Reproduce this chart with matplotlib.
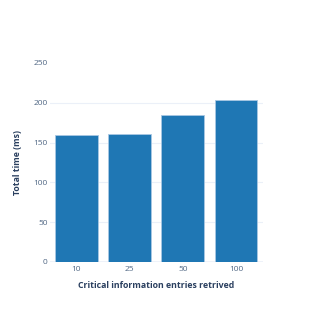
import matplotlib
matplotlib.use("Agg")
import matplotlib.pyplot as plt
import numpy as np

plt.rcParams['font.family'] = ['Open Sans', 'DejaVu Sans']

# data
entries = ['10', '25', '50', '100']
total_time = [158.9, 160.1, 184.9, 203.8]
yticks = [0, 50, 100, 150, 200, 250]

fig = plt.figure(figsize=(3.16, 3.16), dpi=100)
ax = fig.add_axes([0.157, 0.171, 0.674, 0.63])

x = np.arange(len(entries))
ax.bar(x, total_time, width=0.8, color='#1f77b4', edgecolor='#a9c8e3',
       linewidth=0.6, zorder=3)

ax.set_xlim(-0.5, len(entries) - 0.5)
ax.set_ylim(0, 250)
ax.set_xticks(x)
ax.set_xticklabels(entries)
ax.set_yticks(yticks)
# gridlines except the top one
for v in yticks[1:-1]:
    ax.axhline(v, color='#ebf0f8', linewidth=0.8, zorder=0)
ax.axhline(0, color='#ebf0f8', linewidth=1.2, zorder=2)
for s in ax.spines.values():
    s.set_visible(False)
ax.tick_params(length=0, labelsize=6, labelcolor='#506784')
ax.tick_params(axis='y', pad=1.5)
ax.tick_params(axis='x', pad=3)

ax.set_xlabel('Critical information entries retrived', fontsize=6.3,
              fontweight='bold', color='#2a3f5f', labelpad=6)
ax.set_ylabel('Total time (ms)', fontsize=6.3, fontweight='bold',
              color='#2a3f5f', labelpad=8)

fig.savefig('out.png', dpi=100)
